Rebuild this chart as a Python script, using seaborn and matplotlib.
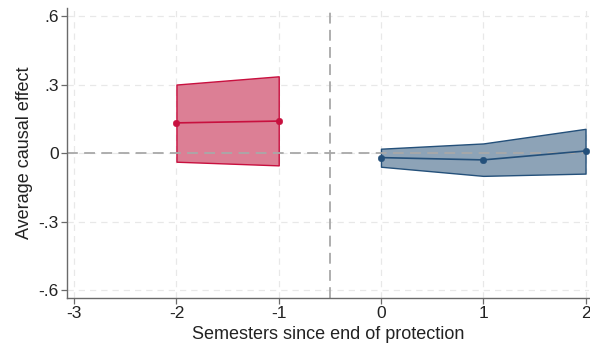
import matplotlib
matplotlib.use("Agg")
import matplotlib.pyplot as plt
import seaborn as sns
import pandas as pd

# Pre-protection (leads) and post-protection (lags) estimates with 95% bands
pre_x = [-2, -1]
pre_est = [0.132, 0.140]
pre_lo = [-0.038, -0.054]
pre_hi = [0.300, 0.336]

post_x = [0, 1, 2]
post_est = [-0.020, -0.030, 0.009]
post_lo = [-0.060, -0.100, -0.090]
post_hi = [0.019, 0.042, 0.106]

x_ticks = [-3, -2, -1, 0, 1, 2]
y_ticks = [-0.6, -0.3, 0, 0.3, 0.6]
y_tick_labels = ["-.6", "-.3", "0", ".3", ".6"]

sns.set_style("white")
plt.rcParams["font.family"] = ["Liberation Sans", "DejaVu Sans"]

pre = pd.DataFrame({"x": pre_x, "est": pre_est, "lo": pre_lo, "hi": pre_hi})
post = pd.DataFrame({"x": post_x, "est": post_est, "lo": post_lo, "hi": post_hi})

fig = plt.figure(figsize=(5.9, 3.49), dpi=100)
ax = fig.add_axes([0.1136, 0.146, 0.884, 0.831])

red = "#c8103f"
red_fill = "#dc7f95"
blue = "#24507a"
blue_fill = "#8da3b7"

ax.fill_between(pre["x"], pre["lo"], pre["hi"], color=red_fill, edgecolor=red,
                linewidth=1.0, zorder=2)
ax.fill_between(post["x"], post["lo"], post["hi"], color=blue_fill, edgecolor=blue,
                linewidth=1.0, zorder=2)

sns.lineplot(data=pre, x="x", y="est", color=red, linewidth=1.2, ax=ax, zorder=3)
sns.scatterplot(data=pre, x="x", y="est", color=red, s=22, edgecolor=red, ax=ax,
                zorder=4, clip_on=False)
sns.lineplot(data=post, x="x", y="est", color=blue, linewidth=1.2, ax=ax, zorder=3)
sns.scatterplot(data=post, x="x", y="est", color=blue, s=22, edgecolor=blue, ax=ax,
                zorder=4, clip_on=False)

# Reference lines
ax.axhline(0, color="#a8a8a8", linestyle=(0, (6, 3.5)), linewidth=1.3, zorder=2.5)
ax.axvline(-0.5, color="#a8a8a8", linestyle=(0, (6, 3.5)), linewidth=1.3, zorder=2.5)

ax.set_xlim(-3.07, 2.03)
ax.set_ylim(-0.635, 0.635)
ax.set_xticks(x_ticks)
ax.set_xticklabels([str(t) for t in x_ticks])
ax.set_yticks(y_ticks)
ax.set_yticklabels(y_tick_labels)

ax.grid(True, color="#e8e8e8", linestyle=(0, (5, 4)), linewidth=0.9)
ax.set_axisbelow(True)

for side in ["top", "right"]:
    ax.spines[side].set_visible(False)
for side in ["left", "bottom"]:
    ax.spines[side].set_color("#6a6a6a")
    ax.spines[side].set_linewidth(1.0)

ax.tick_params(axis="both", direction="out", length=4, width=0.9, color="#6a6a6a",
               labelsize=12.5, labelcolor="#222222", pad=2, bottom=True, left=True)

ax.set_xlabel("Semesters since end of protection", fontsize=13, color="#222222", labelpad=3)
ax.set_ylabel("Average causal effect", fontsize=13, color="#222222", labelpad=4)

fig.savefig("out.png", dpi=100)
